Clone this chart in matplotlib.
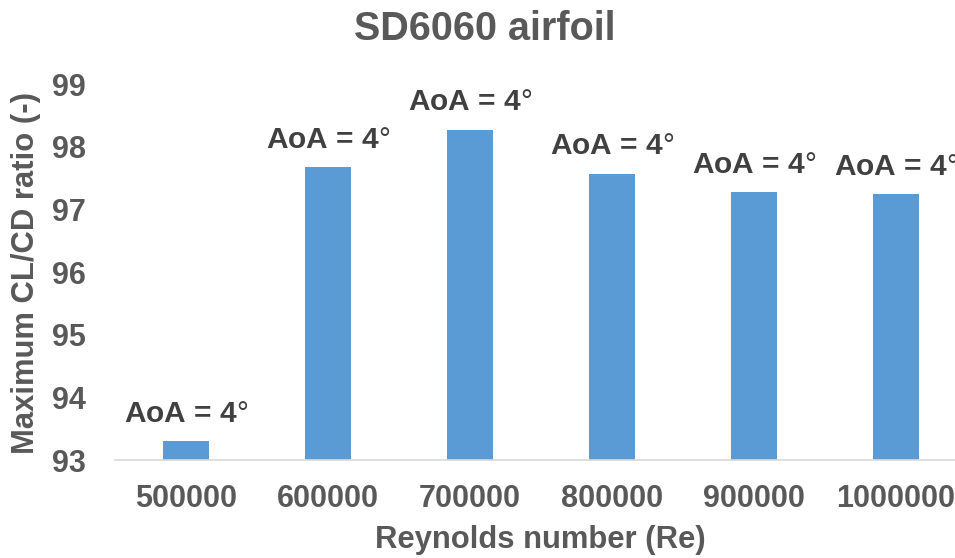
import matplotlib
matplotlib.use("Agg")
import matplotlib.pyplot as plt

plt.rcParams["font.family"] = ["Liberation Sans", "DejaVu Sans"]
plt.rcParams["mathtext.fontset"] = "custom"
plt.rcParams["mathtext.rm"] = "Liberation Sans"

reynolds = ["500000", "600000", "700000", "800000", "900000", "1000000"]
max_cl_cd = [93.30, 97.67, 98.27, 97.57, 97.27, 97.24]
aoa_labels = [r"AoA = 4$\mathrm{°}$"] * 6

bar_color = "#5B9BD5"
text_color = "#595959"
label_color = "#404040"

fig = plt.figure(figsize=(9.55, 5.58), dpi=100)
ax = fig.add_axes([115 / 955, 1 - 460 / 558, 852 / 955, (460 - 84) / 558])

x = list(range(len(reynolds)))
bars = ax.bar(x, max_cl_cd, width=0.317, color=bar_color, zorder=2)

ax.set_ylim(93, 99)
ax.set_xlim(-0.5, len(reynolds) - 0.5)
ax.set_yticks(range(93, 100))
ax.set_xticks(x)
ax.set_xticklabels(reynolds)

for side in ("top", "right", "left"):
    ax.spines[side].set_visible(False)
ax.spines["bottom"].set_color("#D9D9D9")
ax.spines["bottom"].set_linewidth(1.2)
ax.tick_params(axis="both", length=0, labelsize=22, labelcolor=text_color)
ax.tick_params(axis="y", pad=21)
ax.tick_params(axis="x", pad=17)
for lab in ax.get_xticklabels() + ax.get_yticklabels():
    lab.set_fontweight("bold")

for xi, val, txt in zip(x, max_cl_cd, aoa_labels):
    ax.annotate(txt, xy=(xi, val), xytext=(0, 14), textcoords="offset points",
                ha="center", va="baseline", fontsize=21.5, fontweight="bold",
                color=label_color, annotation_clip=False)

fig.text(485 / 955, 1 - 29 / 558, "SD6060 airfoil", ha="center", va="center",
         fontsize=28.5, fontweight="bold", color=text_color)
fig.text(540 / 955, 1 - 540 / 558, "Reynolds number (Re)", ha="center", va="center",
         fontsize=22.3, fontweight="bold", color=text_color)
fig.text(26 / 955, 1 - 273 / 558, "Maximum CL/CD ratio (-)", ha="center", va="center",
         rotation=90, fontsize=22.3, fontweight="bold", color=text_color)

fig.savefig("out.png", dpi=100)
